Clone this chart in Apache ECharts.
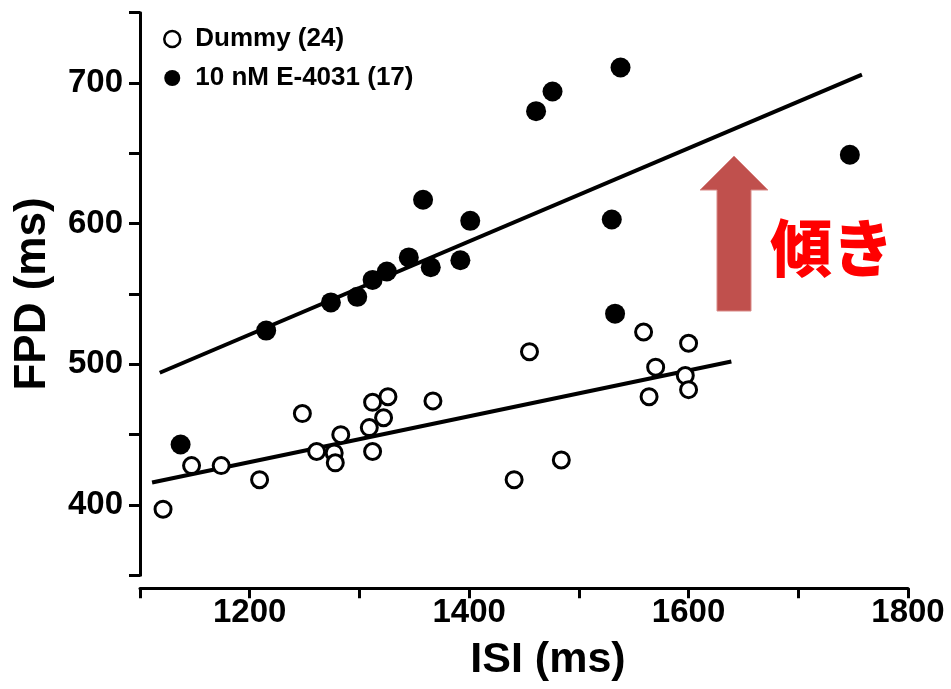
<!DOCTYPE html>
<html>
<head>
<meta charset="utf-8">
<script src="https://cdn.jsdelivr.net/npm/echarts@6/dist/echarts.min.js"></script>
<style>
html,body{margin:0;padding:0;background:#fff;}
#chart{width:951px;height:689px;}
</style>
</head>
<body>
<div id="chart"></div>
<script>
// ---- Data ----
var seriesNames = ['Dummy (24)', '10 nM E-4031 (17)'];

var dummyISI = [1121,1147,1174,1209,1248,1261,1277,1278,1283,1309,1312,1312,1322,1326,1367,1455,1484,1441,1559,1600,1570,1597,1564,1600];
var dummyFPD = [397,428,428,418,465,438,437,430,450,455,438,473,462,477,474,509,432,418,523,515,498,492,477,482];

var e4031ISI = [1137,1215,1274,1298,1312,1325,1345,1365,1358,1401,1392,1461,1476,1538,1530,1533,1747];
var e4031FPD = [443,524,544,548,560,566,576,569,617,602,574,680,694,711,603,536,649];

// regression line end points
var dummyFitISI = [1111, 1639];
var dummyFitFPD = [416, 502];
var e4031FitISI = [1118, 1758];
var e4031FitFPD = [494, 706];

var xTicks = [1200, 1400, 1600, 1800];
var yTicks = [400, 500, 600, 700];

var xTitle = 'ISI (ms)';
var yTitle = 'FPD (ms)';
var annotationText = '傾き';

function pairs(xs, ys){ return xs.map(function(x,i){ return [x, ys[i]]; }); }

var chart = echarts.init(document.getElementById('chart'), null, {renderer:'canvas'});
var FONT = "'Liberation Sans', Arial, sans-serif";

var option = {
  animation: false,
  backgroundColor: '#ffffff',
  grid: { left: 140, right: 43, top: 12.7, bottom: 113.7, containLabel: false },
  legend: {
    orient: 'vertical',
    left: 158,
    top: 19,
    itemWidth: 36,
    itemHeight: 16,
    itemGap: 9,
    icon: 'circle',
    textStyle: { fontFamily: FONT, fontWeight: 'bold', fontSize: 26, color: '#000', lineHeight: 30 },
    data: [
      { name: seriesNames[0], itemStyle: { color: '#fff', borderColor: '#000', borderWidth: 2.5 } },
      { name: seriesNames[1], itemStyle: { color: '#000', borderWidth: 0 } }
    ]
  },
  xAxis: {
    type: 'value',
    min: 1100, max: 1800, interval: 100,
    offset: 13,
    name: xTitle,
    nameLocation: 'middle',
    nameGap: 50,
    nameTextStyle: { fontFamily: FONT, fontWeight: 'bold', fontSize: 43, color: '#000', padding: [0,0,0,48] },
    axisLine: { show: true, onZero: false, lineStyle: { color: '#000', width: 3 } },
    axisTick: { show: true, inside: false, length: 10, lineStyle: { color: '#000', width: 3 } },
    axisLabel: {
      margin: 8,
      fontFamily: FONT, fontWeight: 'bold', fontSize: 33, color: '#000',
      formatter: function(v){ return xTicks.indexOf(v) >= 0 ? String(v) : ''; }
    },
    splitLine: { show: false }
  },
  yAxis: {
    type: 'value',
    min: 350, max: 750, interval: 50,
    name: yTitle,
    nameLocation: 'middle',
    nameRotate: 90,
    nameGap: 85,
    nameTextStyle: { fontFamily: FONT, fontWeight: 'bold', fontSize: 44, color: '#000' },
    axisLine: { show: true, onZero: false, lineStyle: { color: '#000', width: 3 } },
    axisTick: { show: true, inside: false, length: 11, lineStyle: { color: '#000', width: 3 } },
    axisLabel: {
      margin: 17,
      fontFamily: FONT, fontWeight: 'bold', fontSize: 33, color: '#000',
      formatter: function(v){ return yTicks.indexOf(v) >= 0 ? String(v) : ''; }
    },
    splitLine: { show: false }
  },
  series: [
    {
      name: 'fitDummy', type: 'line', data: pairs(dummyFitISI, dummyFitFPD),
      showSymbol: false, silent: true, z: 1,
      lineStyle: { color: '#000', width: 4 }
    },
    {
      name: 'fitE4031', type: 'line', data: pairs(e4031FitISI, e4031FitFPD),
      showSymbol: false, silent: true, z: 1,
      lineStyle: { color: '#000', width: 4 }
    },
    {
      name: seriesNames[0], type: 'scatter', data: pairs(dummyISI, dummyFPD),
      symbol: 'circle', symbolSize: 16, z: 3,
      itemStyle: { color: '#fff', borderColor: '#000', borderWidth: 3, opacity: 1 }
    },
    {
      name: seriesNames[1], type: 'scatter', data: pairs(e4031ISI, e4031FPD),
      symbol: 'circle', symbolSize: 20, z: 4,
      itemStyle: { color: '#000', opacity: 1 }
    }
  ],
  graphic: [
    {
      type: 'polygon',
      shape: { points: [[734,156],[768,190],[751,190],[751,311],[717,311],[717,190],[700,190]] },
      style: { fill: '#C0504D', stroke: '#D98A88', lineWidth: 1 },
      z: 10
    },
    {
      type: 'text',
      x: 832, y: 248,
      style: {
        text: annotationText,
        fill: '#FF0000',
        font: "900 62px 'Noto Sans CJK JP', sans-serif",
        textAlign: 'center',
        textVerticalAlign: 'middle'
      },
      z: 10
    }
  ]
};
chart.setOption(option);
</script>
</body>
</html>
